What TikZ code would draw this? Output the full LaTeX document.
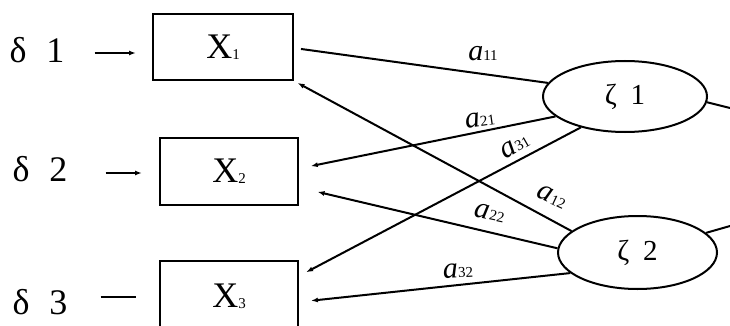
\documentclass[tikz,border=0pt]{standalone}
\usepackage{fontspec}
\setmainfont{Liberation Serif}
\usetikzlibrary{arrows.meta,shapes.geometric}
\newcommand{\lowsub}[2]{\raisebox{-#1pt}{\fontsize{15}{15}\selectfont #2}}
\begin{document}
\begin{tikzpicture}[x=1pt,y=-1pt,
  obs/.style={draw, line width=2pt, inner sep=0pt, font=\fontsize{36}{36}\selectfont},
  lat/.style={draw, ellipse, line width=2pt, inner sep=0pt, font=\fontsize{29}{29}\selectfont},
  err/.style={inner sep=0pt, font=\fontsize{36}{36}\selectfont},
  coef/.style={inner sep=0pt, font=\fontsize{30}{30}\selectfont},
  con/.style={line width=2pt},
  arr/.style={con, -{Latex[length=7pt,width=5pt]}},
]
\fill[white] (0,0) rectangle (730,326);
\useasboundingbox (0,0) rectangle (730,326);

\node[obs, minimum width=140pt, minimum height=66pt] (x1) at (223,47) {X\lowsub{1}{1}};
\node[obs, minimum width=138pt, minimum height=67pt] (x2) at (229,171.5) {X\lowsub{1}{2}};
\node[obs, minimum width=138pt, minimum height=70pt] (x3) at (229,296) {X\lowsub{1}{3}};
\node[lat, minimum width=164pt, minimum height=71pt] (z1) at (625,96.5) {ζ\hspace{14pt}1};
\node[lat, minimum width=159pt, minimum height=73pt] (z2) at (637.5,252.5) {ζ\hspace{14pt}2};

\node[err] (d1) at (37,50) {δ\hspace{20pt}1};
\node[err] (d2) at (40,169) {δ\hspace{20pt}2};
\node[err] (d3) at (40,302) {δ\hspace{20pt}3};

\draw[arr, shorten <=30pt, shorten >=16pt] ([yshift=-3pt]d1.east) -- ([yshift=-3pt]d1.east -| x1.west);
\draw[arr, shorten <=38pt, shorten >=17pt] ([yshift=-4pt]d2.east) -- ([yshift=-4pt]d2.east -| x2.west);
\draw[con, shorten <=33pt, shorten >=23pt] ([yshift=5pt]d3.east) -- ([yshift=5pt]d3.east -| x3.west);

\draw[con, shorten >=7pt] (z1.170) -- ([yshift=-1pt]x1.east);
\draw[arr, shorten >=4pt] (z2.162) -- (x1.south east);
\draw[arr, shorten >=12pt] (z1.196) -- ([yshift=3pt]x2.east);
\draw[arr, shorten >=19pt] (z2.177) -- ([yshift=-16pt]x2.east);
\draw[arr, shorten >=8pt] (z1.215) -- ([yshift=20pt]x3.east);
\draw[arr, shorten >=12pt] (z2.197) -- ([yshift=-6pt]x3.east);

\coordinate (e1) at (730,108);
\coordinate (e2) at (730,226);
\draw[con] (z1.356) -- (e1);
\draw[con] (z2.16) -- (e2);

\node[coef] (l11) at (483,54) {\textit{a}\lowsub{0}{11}};
\node[coef, rotate=8] (l21) at (480,120) {\textit{a}\lowsub{0}{21}};
\node[coef, rotate=30] (l31) at (515,146) {\textit{a}\lowsub{0}{31}};
\node[coef, rotate=-25] (l12) at (552,197) {\textit{a}\lowsub{0}{12}};
\node[coef, rotate=-12] (l22) at (490,213) {\textit{a}\lowsub{0}{22}};
\node[coef, rotate=3] (l32) at (458,271) {\textit{a}\lowsub{0}{32}};
\end{tikzpicture}
\end{document}
